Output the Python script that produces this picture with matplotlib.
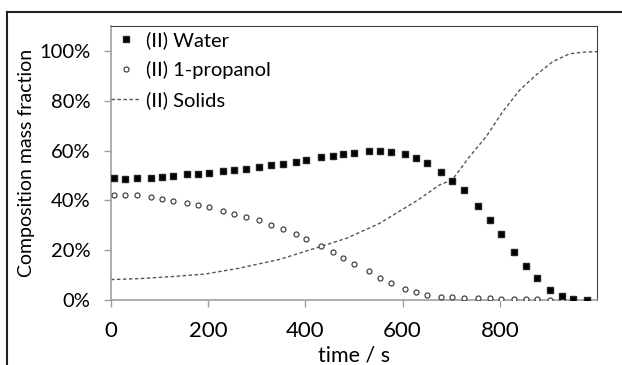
import matplotlib
matplotlib.use('Agg')
import matplotlib.pyplot as plt
from matplotlib.lines import Line2D
from matplotlib.ticker import FuncFormatter

plt.rcParams['font.family'] = ['Lato', 'DejaVu Sans']

# sample times (s)
t = [6, 29, 53, 82, 104, 127, 156, 179, 201, 231, 254, 277, 304, 329, 353, 380,
     402, 432, 456, 478, 501, 530, 553, 576, 604, 628, 651, 679, 702, 726, 755,
     779, 802, 830, 853, 876, 904, 927, 950, 979]

# mass fractions in %
water = [48.9, 48.6, 48.9, 48.9, 49.3, 49.7, 50.5, 50.7, 51.0, 51.7, 52.1, 52.6,
         53.4, 54.2, 54.5, 55.4, 56.2, 57.3, 57.9, 58.6, 59.0, 59.8, 59.8, 59.4,
         58.5, 57.0, 54.9, 51.4, 47.9, 44.2, 37.9, 32.3, 26.4, 19.2, 13.5, 8.7,
         4.1, 1.6, 0.3, 0.0]
propanol = [42.3, 42.3, 42.0, 41.4, 40.6, 39.9, 38.8, 38.2, 37.2, 35.7, 34.7, 33.5,
            32.0, 30.2, 28.5, 26.5, 24.6, 21.8, 19.4, 17.0, 14.6, 11.5, 9.0, 7.0,
            4.4, 3.1, 2.0, 1.3, 1.1, 0.7, 0.7, 0.7, 0.4, 0.4, 0.4, 0.4, 0.1, 0.1,
            0.0, 0.0]

t_sol = [0, 60, 125, 193, 262, 347, 430, 485, 553, 632, 676, 702, 738, 772, 806,
         841, 875, 909, 943, 970, 1000]
solids = [8.2, 8.6, 9.4, 10.4, 12.7, 16.3, 21.4, 24.8, 30.8, 40.2, 46.2, 48.2,
          57.6, 65.6, 75.6, 84.3, 90.4, 95.7, 98.8, 99.5, 99.7]

fig = plt.figure(figsize=(6.22, 3.65), dpi=100)
ax = fig.add_axes([111/622, 1 - 300/365, (597 - 111)/622, (300 - 26)/365])

ax.plot(t_sol, solids, color='#555555', lw=1.0, ls=(0, (2.5, 1.8)), label='(II) Solids', zorder=2)
ax.plot(t, propanol, ls='none', marker='o', ms=3.6, mfc='white', mec='#444444',
        mew=0.9, label='(II) 1-propanol', zorder=3)
ax.plot(t, water, ls='none', marker='s', ms=4.8, color='black', mec='#222222',
        label='(II) Water', zorder=4)

ax.set_xlim(0, 1000)
ax.set_ylim(0, 110)
ax.set_xticks([0, 200, 400, 600, 800])
ax.set_yticks([0, 20, 40, 60, 80, 100])
ax.yaxis.set_major_formatter(FuncFormatter(lambda v, p: '%d%%' % v))

for s in ['left', 'bottom']:
    ax.spines[s].set_color('#a0a0a0')
    ax.spines[s].set_linewidth(1.2)
for s in ['top', 'right']:
    ax.spines[s].set_color('#404040')
    ax.spines[s].set_linewidth(0.8)

ax.tick_params(axis='y', direction='out', length=5, width=1, color='#a0a0a0',
               labelsize=14.5, pad=10)
ax.tick_params(axis='x', direction='out', length=5, width=1, color='#a0a0a0',
               labelsize=16, pad=10)

ax.set_xlabel('time / s', fontsize=15.5, labelpad=3)
ax.set_ylabel('Composition mass fraction', fontsize=14, labelpad=3)

handles, labels = ax.get_legend_handles_labels()
ax.legend(handles[::-1], labels[::-1], loc='upper left', bbox_to_anchor=(0.0, 0.98),
          frameon=False, fontsize=14.5, numpoints=1, handlelength=1.5,
          handletextpad=0.25, labelspacing=0.58, borderaxespad=0, borderpad=0)

# outer frame of the figure
x0 = 7/622
y0 = 1 - 12/365
fig.add_artist(Line2D([x0, x0], [0, y0], transform=fig.transFigure, color='#222222', lw=1.5))
fig.add_artist(Line2D([x0, 1], [y0, y0], transform=fig.transFigure, color='#222222', lw=1.5))

fig.savefig('out.png', dpi=100)
